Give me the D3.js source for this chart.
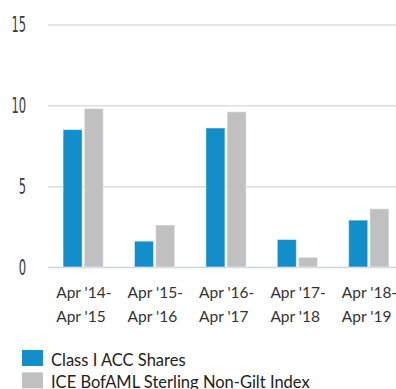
<!DOCTYPE html>
<html>
<head>
<meta charset="utf-8">
<script src="https://cdn.jsdelivr.net/npm/d3@7"></script>
<style>
  html, body { margin: 0; padding: 0; background: #fff; }
  svg { display: block; }
</style>
</head>
<body>
<div id="chart"></div>
<script>
// Annual performance periods (two-line labels)
const periodsTop = ["Apr '14-", "Apr '15-", "Apr '16-", "Apr '17-", "Apr '18-"];
const periodsBottom = ["Apr '15", "Apr '16", "Apr '17", "Apr '18", "Apr '19"];
const seriesNames = ["Class I ACC Shares", "ICE BofAML Sterling Non-Gilt Index"];
const fundValues = [8.5, 1.6, 8.6, 1.7, 2.9];
const indexValues = [9.8, 2.6, 9.6, 0.6, 3.6];
const yTicks = [0, 5, 10, 15];
const colors = ["#128fca", "#c0c0c0"];

const width = 396, height = 389;
const svg = d3.select("#chart").append("svg")
  .attr("width", width).attr("height", height);

const x = d3.scaleBand()
  .domain(d3.range(periodsTop.length))
  .range([47.5, 404.5])
  .paddingInner(0.436)
  .paddingOuter(0.218);

const xs = d3.scaleBand()
  .domain([0, 1])
  .range([0, x.bandwidth()])
  .paddingInner(0.1);

const y = d3.scaleLinear().domain([0, 15]).range([267, 24.5]);

// Title (sits at the top edge)
svg.append("text")
  .attr("x", 14).attr("y", -2.5)
  .attr("font-family", "Open Sans, sans-serif")
  .attr("font-weight", "bold")
  .attr("font-size", 16)
  .attr("fill", "#333")
  .text("Performance (%)");

// Gridlines
const grid = d3.axisLeft(y).tickValues(yTicks).tickSize(-(width - 48)).tickFormat("");
svg.append("g")
  .attr("transform", "translate(48,0)")
  .call(grid)
  .call(g => g.select(".domain").remove())
  .call(g => g.selectAll(".tick line")
    .attr("stroke", d => d === 0 ? "#c8d4e2" : "#dedede")
    .attr("stroke-width", 1.5));

// Y tick labels (condensed digits)
svg.append("g").selectAll("text")
  .data(yTicks)
  .join("text")
  .attr("transform", d => `translate(26,${y(d) + 7.5}) scale(0.56,1)`)
  .attr("text-anchor", "end")
  .attr("font-family", "DejaVu Sans, sans-serif")
  .attr("font-size", 20.5)
  .attr("fill", "#3a3a3a")
  .text(d => d);

// Bars
const data = periodsTop.map((p, i) => [fundValues[i], indexValues[i]]);
const groups = svg.append("g").selectAll("g")
  .data(data)
  .join("g")
  .attr("transform", (d, i) => `translate(${x(i)},0)`);

groups.selectAll("rect")
  .data(d => d.map((v, k) => ({ v, k })))
  .join("rect")
  .attr("x", d => xs(d.k))
  .attr("width", xs.bandwidth())
  .attr("y", d => y(d.v))
  .attr("height", d => y(0) - y(d.v))
  .attr("fill", d => colors[d.k])
  .attr("stroke", "#ffffff")
  .attr("stroke-opacity", 0.5)
  .attr("stroke-width", 1);

// X labels (two lines, left aligned within each group)
const xl = svg.append("g").selectAll("text")
  .data(periodsTop)
  .join("text")
  .attr("font-family", "Lato, sans-serif")
  .attr("font-size", 15.5)
  .attr("fill", "#333");
xl.append("tspan")
  .attr("x", (d, i) => x(i) + x.bandwidth() / 2 - 27)
  .attr("y", 298)
  .text(d => d);
xl.append("tspan")
  .attr("x", (d, i) => x(i) + x.bandwidth() / 2 - 27)
  .attr("y", 321.5)
  .text((d, i) => periodsBottom[i]);

// Legend
const legend = svg.append("g").selectAll("g")
  .data(seriesNames)
  .join("g")
  .attr("transform", (d, i) => `translate(22,${350 + i * 22.3})`);
legend.append("rect")
  .attr("width", 21).attr("height", 16)
  .attr("fill", (d, i) => colors[i]);
legend.append("text")
  .attr("x", 29).attr("y", 16)
  .attr("font-family", "Lato, sans-serif")
  .attr("font-size", 16.5)
  .attr("fill", "#222")
  .text(d => d);
</script>
</body>
</html>
